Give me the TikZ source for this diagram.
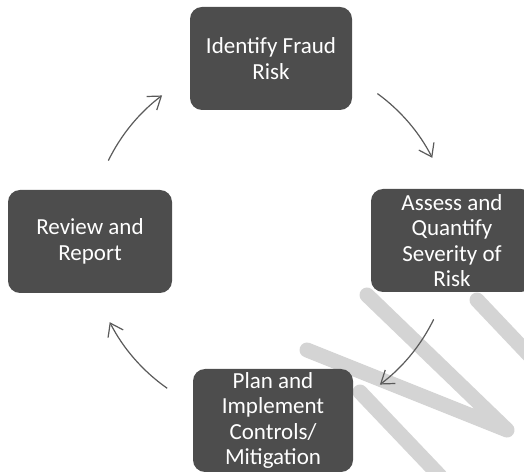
\documentclass[tikz,border=0pt]{standalone}
\usepackage{fontspec}
\setmainfont{Carlito}
\usetikzlibrary{arrows.meta, calc}

\definecolor{boxgray}{HTML}{4D4D4D}
\definecolor{flowgray}{HTML}{5A5A5A}
\definecolor{bandgray}{HTML}{D4D4D4}

\tikzset{
  stepbox/.style={fill=boxgray, rounded corners=12pt, text=white, align=center,
    minimum width=162pt, minimum height=103pt, inner sep=2pt,
    font=\fontsize{23}{25.5}\selectfont},
  flow/.style={-{Straight Barb[length=12pt, width=17pt]}, line width=1.2pt, flowgray},
  band/.style={line width=15pt, bandgray, line cap=round, line join=round}
}

\begin{document}
\begin{tikzpicture}[x=1pt, y=1pt]
    \path[use as bounding box, clip] (0,0) rectangle (524,471);
    \coordinate (hub) at (271,231);

    % Faint strokes in the lower right
    \draw[band] (367,176) -- (507,41) -- (307,121);
    \draw[band] (360,79) -- (440,-5);
    \draw[band] (477,171) -- (532,113);

    % Stages of the cycle
    \node[stepbox] (identify) at (271,412.5) {Identify Fraud\\Risk};
    \node[stepbox] (assess) at (452,230.5) {Assess and\\Quantify\\Severity of\\Risk};
    \node[stepbox, minimum width=160pt] (plan) at (273,50.5) {Plan and\\Implement\\Controls/\\Mitigation};
    \node[stepbox, minimum width=164pt] (review) at (90,229.5) {Review and\\Report};

    % Arrow ends on a circle round the hub
    \coordinate (rs) at ($(hub)+(154:181pt)$);
    \coordinate (is) at ($(hub)+(54:181pt)$);
    \coordinate (as) at ($(hub)+(-26:181pt)$);
    \coordinate (ps) at ($(hub)+(-125:181pt)$);

    % Cycle arrows
    \draw[flow] (rs) arc[start angle=154, end angle=127, radius=181pt];
    \draw[flow] (is) arc[start angle=54, end angle=27, radius=181pt];
    \draw[flow] (as) arc[start angle=-26, end angle=-53, radius=181pt];
    \draw[flow] (ps) arc[start angle=-125, end angle=-153, radius=181pt];

\end{tikzpicture}
\end{document}
